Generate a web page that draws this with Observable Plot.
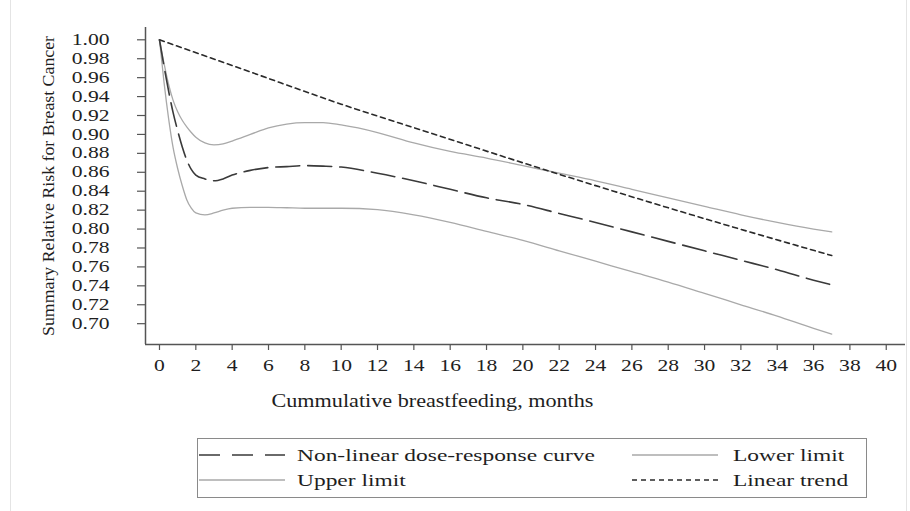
<!DOCTYPE html>
<html>
<head>
<meta charset="utf-8">
<script src="https://cdn.jsdelivr.net/npm/d3@7"></script>
<script src="https://cdn.jsdelivr.net/npm/@observablehq/plot@0.6"></script>
<style>
  html, body { margin: 0; padding: 0; background: #fff; }
  #wrap { position: relative; width: 910px; height: 511px; overflow: hidden; }
  .edge { position: absolute; top: 0; width: 1px; height: 511px; background: #e4e4e4; }
</style>
</head>
<body>
<div id="wrap"><div class="edge" style="left:10px"></div><div class="edge" style="left:906px"></div></div>
<script>
// ---- data ----
const months = [0, 0.25, 0.5, 0.75, 1, 1.25, 1.5, 1.75, 2, 2.5, 3, 3.5, 4, 5, 6, 7, 8, 9, 10, 12, 14, 16, 18, 20, 22, 24, 26, 28, 30, 32, 34, 36, 37];
const nonLinearRR = [1.00, 0.972, 0.946, 0.923, 0.904, 0.887, 0.873, 0.863, 0.857, 0.853, 0.851, 0.853, 0.857, 0.862, 0.865, 0.866, 0.867, 0.8665, 0.8655, 0.859, 0.851, 0.842, 0.833, 0.826, 0.8165, 0.807, 0.797, 0.787, 0.777, 0.767, 0.757, 0.746, 0.741];
const upperRR = [1.00, 0.975, 0.953, 0.936, 0.924, 0.915, 0.908, 0.902, 0.897, 0.891, 0.889, 0.890, 0.893, 0.900, 0.907, 0.911, 0.9125, 0.9125, 0.910, 0.902, 0.891, 0.882, 0.875, 0.867, 0.859, 0.851, 0.842, 0.833, 0.824, 0.815, 0.807, 0.800, 0.797];
const lowerRR = [1.00, 0.955, 0.917, 0.886, 0.864, 0.846, 0.831, 0.822, 0.817, 0.815, 0.817, 0.820, 0.822, 0.823, 0.823, 0.8225, 0.822, 0.822, 0.822, 0.8205, 0.815, 0.807, 0.7975, 0.788, 0.777, 0.766, 0.755, 0.744, 0.732, 0.720, 0.708, 0.695, 0.689];
const linearMonths = [0, 5, 10, 15, 20, 25, 30, 37];
const linearRR = [1.00, 0.966, 0.932, 0.901, 0.870, 0.840, 0.811, 0.772];

const xTicks = [0, 2, 4, 6, 8, 10, 12, 14, 16, 18, 20, 22, 24, 26, 28, 30, 32, 34, 36, 38, 40];
const yTicks = [0.70, 0.72, 0.74, 0.76, 0.78, 0.80, 0.82, 0.84, 0.86, 0.88, 0.90, 0.92, 0.94, 0.96, 0.98, 1.00];
const xTitle = "Cummulative breastfeeding, months";
const yTitle = "Summary Relative Risk for Breast Cancer";
const legendLabels = ["Non-linear dose-response curve", "Lower limit", "Upper limit", "Linear trend"];

// ---- styles ----
const FONT = "'Liberation Serif', 'Times New Roman', serif";
const styles = {
  nonLinear: {stroke: "#3a3a3a", strokeWidth: 1.6, strokeDasharray: "24,8"},
  upper: {stroke: "#a9a9a9", strokeWidth: 1.3},
  lower: {stroke: "#a9a9a9", strokeWidth: 1.3},
  linear: {stroke: "#2a2a2a", strokeWidth: 1.6, strokeDasharray: "5,4"}
};
const xDomain = [-0.77, 41.06];
const yDomain = [0.678, 1.013];

const toRows = (xs, ys) => xs.map((m, i) => ({m, v: ys[i]}));

const chart = Plot.plot({
  width: 910,
  height: 425,
  marginLeft: 145,
  marginRight: 5,
  marginTop: 27,
  marginBottom: 81,
  style: {fontFamily: FONT, fontSize: "16px", color: "#1e1e1e", background: "transparent"},
  x: {domain: xDomain},
  y: {domain: yDomain},
  marks: [
    Plot.line(toRows(months, upperRR), {x: "m", y: "v", curve: "monotone-x", ...styles.upper}),
    Plot.line(toRows(months, lowerRR), {x: "m", y: "v", curve: "monotone-x", ...styles.lower}),
    Plot.line(toRows(linearMonths, linearRR), {x: "m", y: "v", curve: "monotone-x", ...styles.linear}),
    Plot.line(toRows(months, nonLinearRR), {x: "m", y: "v", curve: "monotone-x", ...styles.nonLinear}),
    Plot.ruleX([xDomain[0]], {stroke: "#555", strokeWidth: 1.5}),
    Plot.ruleY([yDomain[0]], {stroke: "#555", strokeWidth: 1.5}),
    Plot.axisX({ticks: xTicks, tickSize: 6, tickPadding: 9, stroke: "#555", strokeWidth: 1.2, fontSize: 16, label: null}),
    Plot.axisY({ticks: yTicks, tickSize: 8, tickPadding: 28, stroke: "#555", strokeWidth: 1.2, fontSize: 16, tickFormat: d3.format(".2f"), label: null}),
    Plot.text([xTitle], {frameAnchor: "bottom-left", textAnchor: "start", lineAnchor: "middle", dx: 126, dy: 57, fontSize: 18, fill: "#1e1e1e"}),
    Plot.text([yTitle], {frameAnchor: "left", textAnchor: "middle", lineAnchor: "middle", rotate: -90, dx: -97, fontSize: 16.5, fill: "#1e1e1e"})
  ]
});

const wrap = document.getElementById("wrap");
chart.style.position = "absolute";
chart.style.left = "0px";
chart.style.top = "0px";
wrap.appendChild(chart);

// ---- legend (below the plot) ----
const leg = d3.create("svg").attr("width", 910).attr("height", 86)
  .style("position", "absolute").style("left", "0px").style("top", "425px")
  .style("font-family", FONT);
leg.append("rect").attr("x", 197.5).attr("y", 13.5).attr("width", 669).attr("height", 59)
  .attr("fill", "none").attr("stroke", "#8a8a8a").attr("stroke-width", 1);
const legendItems = [
  {label: legendLabels[0], style: {stroke: "#3a3a3a", strokeWidth: 1.6, strokeDasharray: "21,12"}, col: 0, row: 0},
  {label: legendLabels[1], style: styles.lower, col: 1, row: 0},
  {label: legendLabels[2], style: styles.upper, col: 0, row: 1},
  {label: legendLabels[3], style: styles.linear, col: 1, row: 1}
];
const colX = [[199, 285, 297], [632, 718, 733]];
const rowY = [30, 55];
for (const it of legendItems) {
  const [x1, x2, tx] = colX[it.col];
  const y = rowY[it.row];
  leg.append("line").attr("x1", x1).attr("x2", x2).attr("y1", y).attr("y2", y)
    .attr("stroke", it.style.stroke).attr("stroke-width", it.style.strokeWidth)
    .attr("stroke-dasharray", it.style.strokeDasharray || null);
  leg.append("text").attr("x", tx).attr("y", y).attr("dy", "0.34em")
    .attr("font-size", 16.5).attr("fill", "#1e1e1e").attr("class", "legtext").text(it.label);
}
wrap.appendChild(leg.node());

// ---- horizontal stretch of glyphs to match the reference's aspect ----
function stretch(el, target) {
  el.setAttribute("textLength", target);
  el.setAttribute("lengthAdjust", "spacingAndGlyphs");
}
d3.select(chart).selectAll("text").each(function () {
  const t = this.textContent;
  if (t === xTitle) stretch(this, 322);
  else if (t === yTitle) stretch(this, 300);
  else stretch(this, this.getComputedTextLength() * 1.35);
});
leg.selectAll("text.legtext").each(function () {
  stretch(this, this.getComputedTextLength() * 1.42);
});
</script>
</body>
</html>
